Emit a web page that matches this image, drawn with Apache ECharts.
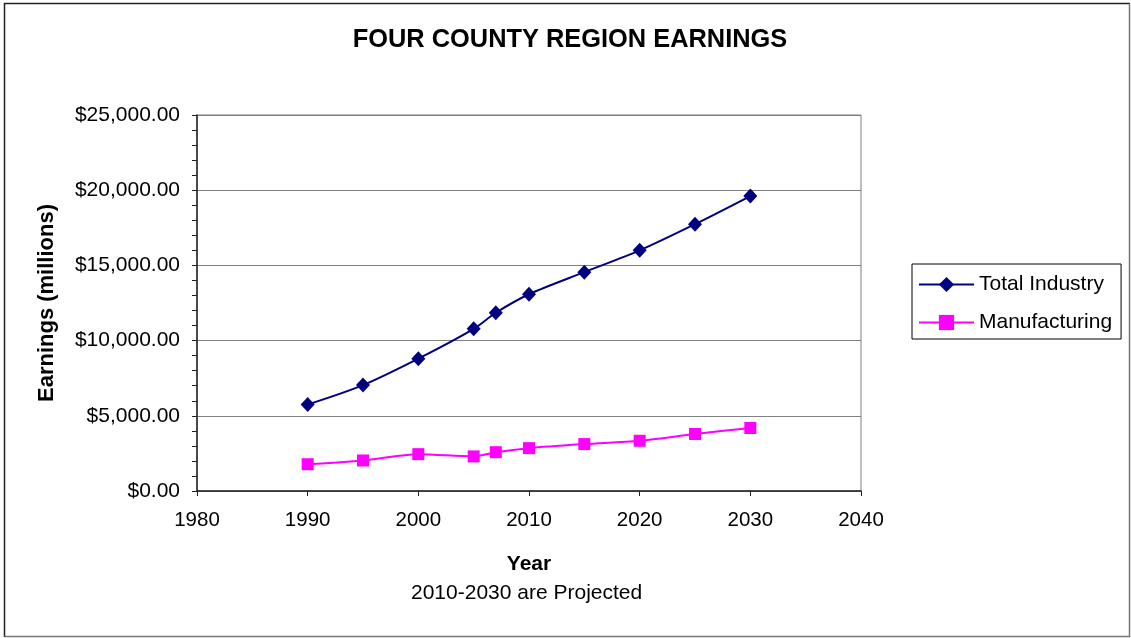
<!DOCTYPE html>
<html>
<head>
<meta charset="utf-8">
<title>Four County Region Earnings</title>
<script src="https://cdn.jsdelivr.net/npm/echarts@6/dist/echarts.min.js"></script>
<style>
  html, body { margin: 0; padding: 0; background: #ffffff; }
  #chart { width: 1131px; height: 638px; }
</style>
</head>
<body>
<div id="chart"></div>
<script>
// Earnings in millions of dollars; 2010-2030 values are projections
const years = [1990, 1995, 2000, 2005, 2007, 2010, 2015, 2020, 2025, 2030];
const totalIndustry = [5750, 7040, 8800, 10780, 11850, 13080, 14550, 16000, 17740, 19610];
const manufacturing = [1780, 2030, 2450, 2300, 2580, 2850, 3120, 3340, 3790, 4190];
const seriesNames = ['Total Industry', 'Manufacturing'];

const FONT = "'Liberation Sans', Arial, sans-serif";

function money(v) {
  const parts = Math.round(v).toString().replace(/\B(?=(\d{3})+(?!\d))/g, ',');
  return '$' + parts + '.00';
}

function pairs(xs, ys) {
  return xs.map((x, i) => [x, ys[i]]);
}

const chart = echarts.init(document.getElementById('chart'), null, { renderer: 'canvas' });

chart.setOption({
  backgroundColor: '#ffffff',
  animation: false,
  title: {
    text: 'FOUR COUNTY REGION EARNINGS',
    left: 565,
    textAlign: 'center',
    top: 22,
    textStyle: { fontFamily: FONT, fontSize: 25.4, fontWeight: 'bold', color: '#000000' }
  },
  graphic: [
    // chart frame
    {
      type: 'polyline',
      shape: { points: [[4.5, 637], [4.5, 3.5], [1130, 3.5]] },
      style: { stroke: '#222222', lineWidth: 1.5, fill: null },
      silent: true
    },
    {
      type: 'polyline',
      shape: { points: [[4.5, 636.5], [1129.5, 636.5], [1129.5, 3.5]] },
      style: { stroke: '#777777', lineWidth: 1.5, fill: null },
      silent: true
    },
    {
      type: 'text',
      left: 411,
      top: 583,
      style: {
        text: '2010-2030 are Projected',
        font: "21px 'Liberation Sans', Arial, sans-serif",
        fill: '#000000'
      }
    }
  ],
  legend: {
    orient: 'vertical',
    left: 912,
    top: 264,
    padding: [10, 9, 6, 6],
    itemWidth: 55,
    itemHeight: 19,
    itemGap: 17,
    backgroundColor: '#ffffff',
    borderColor: '#000000',
    borderWidth: 1,
    borderRadius: 0,
    data: seriesNames,
    textStyle: { fontFamily: FONT, fontSize: 21, color: '#000000', lineHeight: 21 }
  },
  grid: {
    left: 197,
    right: 270,
    top: 115,
    bottom: 147,
    show: true,
    borderColor: '#808080',
    borderWidth: 1,
    backgroundColor: '#ffffff'
  },
  xAxis: {
    type: 'value',
    min: 1980,
    max: 2040,
    interval: 10,
    name: 'Year',
    nameLocation: 'middle',
    nameGap: 63,
    nameTextStyle: { fontFamily: FONT, fontSize: 21, fontWeight: 'bold', color: '#000000' },
    axisLine: { show: true, lineStyle: { color: '#222222', width: 1.5 } },
    axisTick: { show: true, inside: false, length: 5, lineStyle: { color: '#222222' } },
    axisLabel: {
      margin: 19,
      fontFamily: FONT,
      fontSize: 20.5,
      color: '#000000',
      formatter: v => String(v)
    },
    splitLine: { show: false }
  },
  yAxis: {
    type: 'value',
    min: 0,
    max: 25000,
    interval: 5000,
    name: 'Earnings (millions)',
    nameLocation: 'middle',
    nameGap: 139,
    nameRotate: 90,
    nameTextStyle: { fontFamily: FONT, fontSize: 22, fontWeight: 'bold', color: '#000000' },
    axisLine: { show: true, lineStyle: { color: '#222222', width: 1.5 } },
    axisTick: { show: true, inside: false, length: 5, lineStyle: { color: '#222222' } },
    minorTick: { show: true, splitNumber: 5, length: 5, lineStyle: { color: '#222222' } },
    axisLabel: {
      margin: 17,
      fontFamily: FONT,
      fontSize: 21,
      color: '#000000',
      formatter: money
    },
    splitLine: { show: true, lineStyle: { color: '#808080', width: 1 } }
  },
  series: [
    {
      name: seriesNames[0],
      type: 'line',
      data: pairs(years, totalIndustry),
      smooth: 0.3,
      symbol: 'diamond',
      symbolSize: [14, 15],
      itemStyle: { color: '#000080' },
      lineStyle: { color: '#000080', width: 2 },
      z: 3
    },
    {
      name: seriesNames[1],
      type: 'line',
      data: pairs(years, manufacturing),
      smooth: 0.3,
      symbol: 'rect',
      symbolSize: 12,
      itemStyle: { color: '#ff00ff' },
      lineStyle: { color: '#ff00ff', width: 2 },
      z: 2
    }
  ]
});
</script>
</body>
</html>
